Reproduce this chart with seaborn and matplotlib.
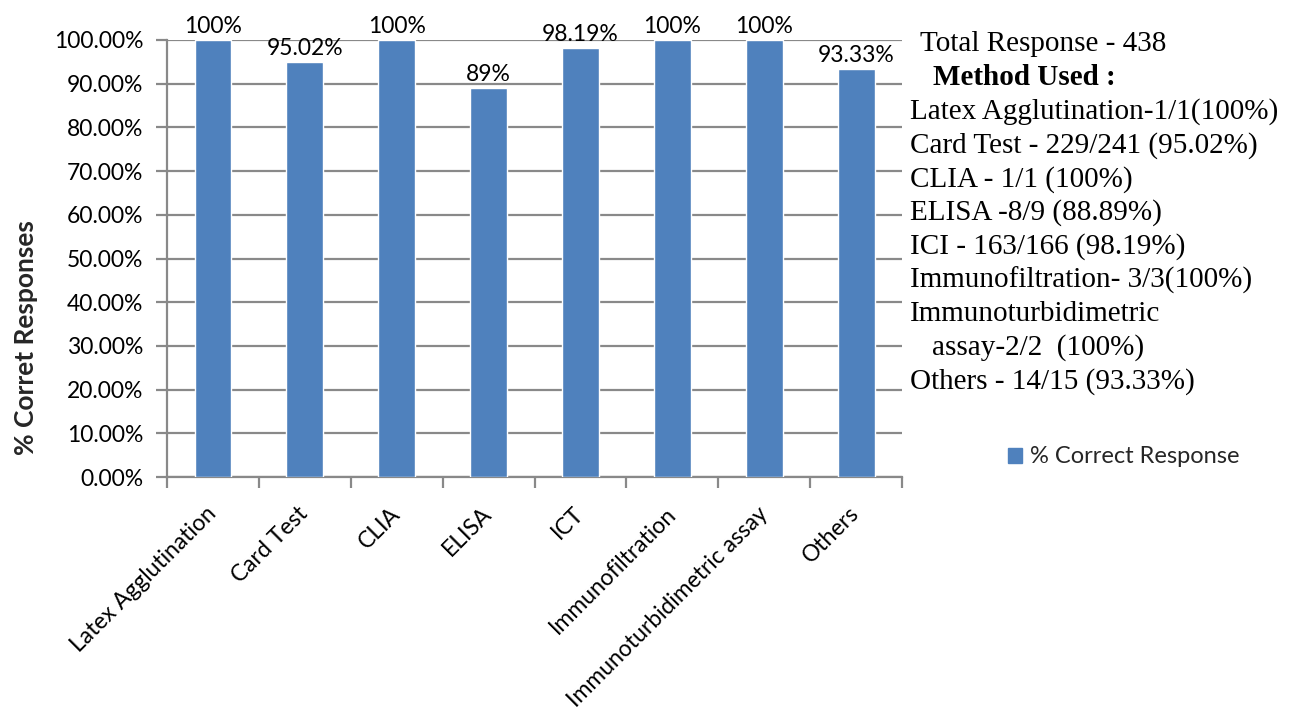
import matplotlib
matplotlib.use("Agg")
import matplotlib.pyplot as plt
import seaborn as sns
import pandas as pd
from matplotlib.patches import Patch
from matplotlib.ticker import FuncFormatter, FixedLocator

# Methods and percentage of correct responses
methods = ["Latex Agglutination", "Card Test", "CLIA", "ELISA", "ICT",
           "Immunofiltration", "Immunoturbidimetric assay", "Others"]
pct_correct = [100, 95.02, 100, 89, 98.19, 100, 100, 93.33]
y_ticks = [0, 10, 20, 30, 40, 50, 60, 70, 80, 90, 100]

# Summary panel text: (line, indent, weight)
summary_lines = [
    ("Total Response - 438", 0.0077, "normal"),
    ("Method Used :", 0.0177, "bold"),
    ("Latex Agglutination-1/1(100%)", 0.0, "normal"),
    ("Card Test - 229/241 (95.02%)", 0.0, "normal"),
    ("CLIA - 1/1 (100%)", 0.0, "normal"),
    ("ELISA -8/9 (88.89%)", 0.0, "normal"),
    ("ICI - 163/166 (98.19%)", 0.0, "normal"),
    ("Immunofiltration- 3/3(100%)", 0.0, "normal"),
    ("Immunoturbidimetric", 0.0, "normal"),
    ("assay-2/2  (100%)", 0.0170, "normal"),
    ("Others - 14/15 (93.33%)", 0.0, "normal"),
]

df = pd.DataFrame({"method": methods, "pct": pct_correct})

sns.set_theme(style="white")
plt.rcParams["font.family"] = ["Lato", "DejaVu Sans"]

bar_color = "#4F81BD"
grid_color = "#898989"
fs = 16.5

fig = plt.figure(figsize=(12.97, 7.23), dpi=100)
ax = fig.add_axes([0.1288, 0.3402, 0.5667, 0.6045])

sns.barplot(data=df, x="method", y="pct", color=bar_color, width=0.4,
            saturation=1, ax=ax, zorder=3)

ax.set_ylim(0, 100)
ax.set_xlim(-0.5, len(methods) - 0.5)
ax.yaxis.set_major_locator(FixedLocator(y_ticks))
ax.yaxis.set_major_formatter(FuncFormatter(lambda v, p: f"{v:.2f}%"))
ax.grid(axis="y", color=grid_color, linewidth=1.6, zorder=0)
ax.set_axisbelow(True)

for s in ["top", "right"]:
    ax.spines[s].set_visible(False)
for s in ["left", "bottom"]:
    ax.spines[s].set_color(grid_color)
    ax.spines[s].set_linewidth(1.6)

ax.tick_params(axis="y", which="major", length=8, width=1.6, color=grid_color,
               labelsize=fs, pad=9, left=True)
ax.tick_params(axis="x", which="major", length=0, labelsize=fs, pad=24)
ax.set_xticks([i - 0.5 for i in range(len(methods) + 1)], minor=True)
ax.tick_params(axis="x", which="minor", length=8, width=1.6, color=grid_color,
               bottom=True)
ax.set_xticks(range(len(methods)))
ax.set_xticklabels(methods, rotation=45, ha="right", va="center",
                   rotation_mode="anchor")
for lbl in ax.get_xticklabels() + ax.get_yticklabels():
    lbl.set_color("black")

ax.set_xlabel("")
ax.set_ylabel("% Corret Responses", fontsize=19, fontweight="bold")
ax.yaxis.set_label_coords(-0.176, 0.32)

ax.bar_label(ax.containers[0], labels=[f"{v:g}%" for v in pct_correct],
             fontsize=fs, padding=2, color="black")

# Summary panel
y0 = 0.939
step = 0.0467
for i, (txt, dx, wt) in enumerate(summary_lines):
    fig.text(0.7016 + dx, y0 - i * step, txt, fontsize=21, fontweight=wt,
             family=["Liberation Serif"], va="center", ha="left",
             color="black")

fig.legend(handles=[Patch(color=bar_color, label="% Correct Response")],
           loc="center left", bbox_to_anchor=(0.7605, 0.368), frameon=False,
           fontsize=17, handlelength=0.6, handleheight=0.6,
           handletextpad=0.35)

fig.savefig("out.png", dpi=100)
